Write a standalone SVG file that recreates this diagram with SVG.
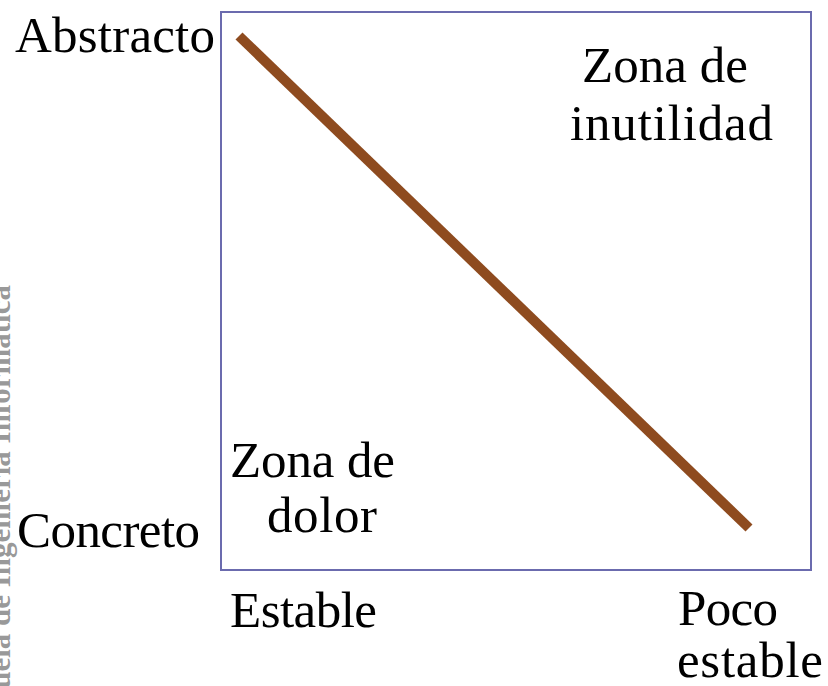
<svg xmlns="http://www.w3.org/2000/svg" width="828" height="686" viewBox="0 0 828 686">
<style>
.t{font-family:"Liberation Serif","Times New Roman",serif;font-size:51px;fill:#000}
.wm{font-family:"Liberation Serif","Times New Roman",serif;font-size:31px;font-weight:bold;fill:#999}
</style>
<rect width="828" height="686" fill="#fff"/>
<text class="wm" transform="translate(10,285) rotate(-90)" text-anchor="end">Escuela de Ingeniería Informática</text>
<g id="chart">
<rect x="221" y="12" width="590" height="558" fill="none" stroke="#6B6BAE" stroke-width="2"/>
</g>
<g id="connectors">
<line x1="239" y1="36" x2="749" y2="528" stroke="#8E4B1F" stroke-width="10"/>
</g>
<g id="axis-labels">
<text class="t" x="15" y="52" textLength="200">Abstracto</text>
<text class="t" x="17" y="547" textLength="183">Concreto</text>
<text class="t" x="230" y="627" textLength="147">Estable</text>
<text class="t" x="678" y="625" textLength="100">Poco</text>
<text class="t" x="677" y="677" textLength="146">estable</text>
</g>
<g id="zona-inutilidad">
<text class="t" x="582" y="82" textLength="166">Zona de</text>
<text class="t" x="570" y="140" textLength="203">inutilidad</text>
</g>
<g id="zona-dolor">
<text class="t" x="230" y="477" textLength="165">Zona de</text>
<text class="t" x="267" y="532" textLength="110">dolor</text>
</g>
</svg>
